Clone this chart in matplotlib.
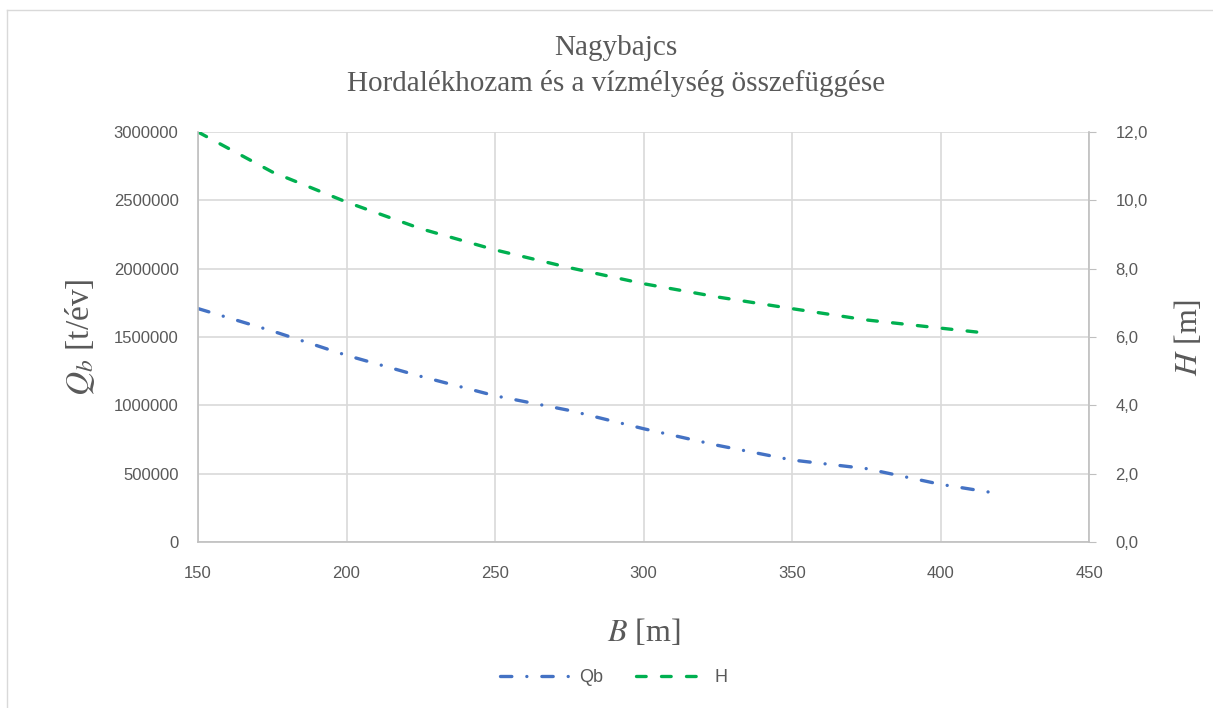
import matplotlib
matplotlib.use('Agg')
import matplotlib.pyplot as plt
from matplotlib.ticker import MultipleLocator, FuncFormatter
from matplotlib.lines import Line2D

# mederszélesség és a hozzá tartozó hordalékhozam / vízmélység
B = [150, 175, 200, 225, 250, 275, 300, 325, 350, 375, 400, 417]
Qb = [1708000, 1544000, 1366000, 1212000, 1070000, 963000, 829000, 707000, 600000, 537000, 422000, 363000]
H = [12.0, 10.83, 9.95, 9.17, 8.55, 8.03, 7.56, 7.17, 6.83, 6.50, 6.26, 6.10]

title = 'Nagybajcs\nHordalékhozam és a vízmélység összefüggése'
grey = '#595959'
qb_color = '#4472C4'
h_color = '#00B050'

plt.rcParams['mathtext.fontset'] = 'stix'
serif = ['Liberation Serif', 'DejaVu Serif']
sans = ['Liberation Sans', 'DejaVu Sans']

fig = plt.figure(figsize=(12.13, 7.08), dpi=100)
ax = fig.add_axes([198/1213, 1-542/708, (1089-198)/1213, (542-132)/708])
ax2 = ax.twinx()

# chart frame (only left and top edges fall inside the picture)
fig.add_artist(Line2D([7/1213, 7/1213], [0, 1-10/708], transform=fig.transFigure, color='#d9d9d9', lw=1))
fig.add_artist(Line2D([7/1213, 1], [1-10/708, 1-10/708], transform=fig.transFigure, color='#d9d9d9', lw=1))

lq, = ax.plot(B, Qb, color=qb_color, lw=2.4, dash_capstyle='round', linestyle=(0, (3.4, 4.5, 0.01, 4.5)), label='Qb')
lh, = ax2.plot(B, H, color=h_color, lw=2.4, dash_capstyle='round', linestyle=(0, (2.9, 4.6)), label='H')

ax.set_xlim(150, 450)
ax.set_ylim(0, 3000000)
ax2.set_ylim(0, 12)
ax.xaxis.set_major_locator(MultipleLocator(50))
ax.yaxis.set_major_locator(MultipleLocator(500000))
ax2.yaxis.set_major_locator(MultipleLocator(2))
ax2.yaxis.set_major_formatter(FuncFormatter(lambda v, p: f'{v:.1f}'.replace('.', ',')))
ax.yaxis.set_major_formatter(FuncFormatter(lambda v, p: f'{int(v)}'))

ax.grid(True, color='#d9d9d9', lw=1.2)
ax.set_axisbelow(True)
for a in (ax, ax2):
    for s in a.spines.values():
        s.set_visible(False)
for s in ('left', 'right', 'bottom'):
    ax2.spines[s].set_visible(True)
    ax2.spines[s].set_color('#bfbfbf')
    ax2.spines[s].set_linewidth(1.2)

ax.tick_params(axis='y', length=0, labelsize=12, labelcolor=grey, pad=14)
ax.tick_params(axis='x', length=0, labelsize=12, labelcolor=grey, pad=17)
for t in ax.get_xticklabels() + ax.get_yticklabels():
    t.set_family(sans)
ax2.tick_params(axis='y', length=5, color='#bfbfbf', labelsize=12, labelcolor=grey, pad=14)
for t in ax2.get_yticklabels():
    t.set_family(sans)

ax.set_ylabel(r'$Q_b$ [t/év]', fontsize=24, color=grey, family=serif, labelpad=12)
ax2.set_ylabel(r'$H$ [m]', fontsize=23, color=grey, family=serif, labelpad=18)
ax.set_xlabel(r'$B$ [m]', fontsize=23, color=grey, family=serif, labelpad=26)

fig.text(0.508, 1-66/708, title, ha='center', va='center', fontsize=21, color=grey,
         family=serif, linespacing=1.4)

fig.legend(handles=[lq, lh], loc='center', bbox_to_anchor=(0.506, 1-678/708), ncol=2,
           frameon=False, handlelength=3.8, columnspacing=1.8, handletextpad=0.6,
           prop={'family': sans, 'size': 13}, labelcolor=grey)

fig.savefig('out.png', dpi=100)
